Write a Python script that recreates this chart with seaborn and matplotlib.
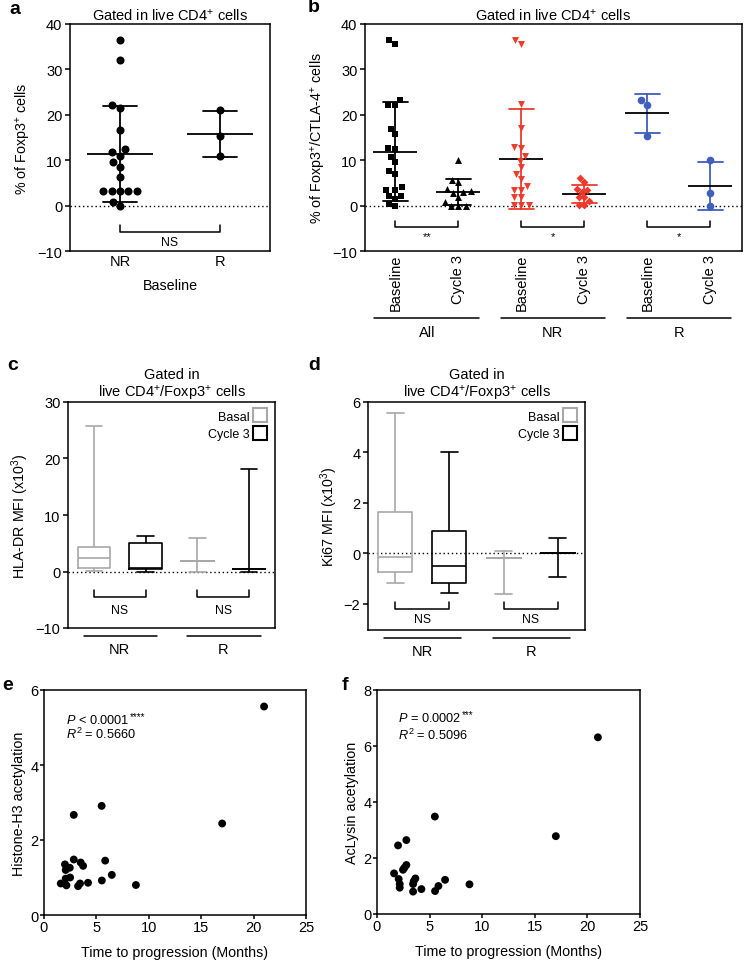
import numpy as np
import pandas as pd
import matplotlib
matplotlib.use("Agg")
import matplotlib.pyplot as plt
from matplotlib.lines import Line2D
import seaborn as sns

sns.set_theme(style="ticks")
plt.rcParams.update({
    "font.family": ["Liberation Sans", "DejaVu Sans"],
    "font.size": 10.5,
    "mathtext.fontset": "custom",
    "mathtext.rm": "Liberation Sans",
    "mathtext.it": "Liberation Sans:italic",
    "mathtext.bf": "Liberation Sans:bold",
    "axes.linewidth": 1.1,
    "axes.edgecolor": "black",
    "axes.labelcolor": "black",
    "text.color": "black",
    "xtick.color": "black",
    "ytick.color": "black",
    "xtick.labelsize": 10.5,
    "ytick.labelsize": 10.5,
    "axes.labelsize": 10.3,
})

RED = "#EE3A2B"
BLUE = "#3F5EBD"
GREY = "#A8A8A8"

# ---- panel a: % Foxp3+ at baseline
a_groups = ["NR", "R"]
a_nr = [36.4, 32.1, 22.1, 21.4, 16.6, 12.4, 11.7, 11.0, 9.5, 8.5, 6.4,
        3.3, 3.3, 3.3, 3.3, 3.3, 0.9, 0.0]
a_r = [21.0, 15.3, 10.9]

# ---- panel b: % Foxp3+/CTLA-4+
b_cats = ["All Baseline", "All Cycle 3", "NR Baseline", "NR Cycle 3", "R Baseline", "R Cycle 3"]
b_tick_labels = ["Baseline", "Cycle 3"] * 3
b_group_names = ["All", "NR", "R"]
b_stars = ["**", "*", "*"]
b_all_base = [36.4, 35.6, 23.2, 22.2, 22.2, 16.9, 15.8, 12.7, 12.5, 10.8, 9.7,
              7.7, 7.0, 4.0, 3.5, 3.5, 2.2, 2.2, 1.5, 0.4, 0.0]
b_all_c3 = [10.0, 5.7, 5.1, 3.7, 3.2, 2.9, 2.8, 1.8, 0.7, 0.0, 0.0, 0.0]
b_nr_base = [36.5, 35.7, 22.4, 17.0, 12.8, 12.6, 11.0, 9.9, 8.4, 7.0, 5.9,
             4.4, 3.5, 3.5, 1.8, 1.8, 0.2, 0.2, 0.2]
b_nr_c3 = [6.0, 5.1, 3.7, 3.5, 2.9, 1.8, 1.8, 1.0, 0.2, 0.2]
b_r_base = [23.3, 22.2, 15.4]
b_r_c3 = [10.1, 2.7, 0.0]

# ---- panels c, d: five-number summaries (min, q1, median, q3, max)
box_cats = ["NR Basal", "NR Cycle 3", "R Basal", "R Cycle 3"]
box_times = ["Basal", "Cycle 3", "Basal", "Cycle 3"]
c_stats = [[0.1, 0.6, 2.4, 4.4, 25.8],
           [0.0, 0.4, 0.7, 5.0, 6.2],
           [0.0, 1.8, 1.8, 1.8, 5.9],
           [0.0, 0.5, 0.5, 0.5, 18.2]]
d_stats = [[-1.17, -0.73, -0.13, 1.63, 5.56],
           [-1.56, -1.17, -0.49, 0.87, 4.0],
           [-1.6, -0.17, -0.17, -0.17, 0.1],
           [-0.93, 0.0, 0.0, 0.0, 0.6]]

# ---- panels e, f: acetylation vs time to progression
e_x = [21.0, 5.5, 2.84, 17.0, 2.84, 5.84, 2.0, 3.5, 3.73, 2.46, 2.07, 6.47,
       2.49, 2.07, 1.6, 5.52, 4.2, 3.44, 3.25, 2.14, 8.77]
e_y = [5.56, 2.91, 2.67, 2.44, 1.48, 1.45, 1.35, 1.40, 1.31, 1.26, 1.20, 1.07,
       1.00, 0.97, 0.84, 0.92, 0.86, 0.84, 0.77, 0.79, 0.80]
f_x = [21.0, 5.5, 2.0, 2.79, 17.0, 2.79, 2.47, 1.62, 2.06, 2.16, 2.16, 3.43,
       3.65, 3.49, 3.43, 4.22, 5.52, 5.84, 6.47, 8.79, 2.6]
f_y = [6.31, 3.48, 2.45, 2.64, 2.78, 1.75, 1.58, 1.45, 1.25, 1.07, 0.94, 1.07,
       1.27, 1.17, 0.80, 0.89, 0.82, 1.00, 1.22, 1.06, 1.65]

W, H = 747, 962
fig = plt.figure(figsize=(W / 100, H / 100), dpi=100)


def add_ax(l, t, r, b):
    return fig.add_axes([l / W, 1 - b / H, (r - l) / W, (b - t) / H])


def style_cat_axis(ax):
    for s in ax.spines.values():
        s.set_visible(True)
        s.set_linewidth(1.1)
    ax.tick_params(axis="x", length=0, pad=2)
    ax.tick_params(axis="y", length=3.5, width=1.1, pad=2)
    ax.axhline(0, ls=(0, (1, 2)), color="black", lw=1, zorder=0)


def bracket(ax, x0, x1, ytop, ybot, text, ytext, fs=8.8):
    ax.plot([x0, x0, x1, x1], [ytop, ybot, ybot, ytop], color="black", lw=1.1)
    ax.text((x0 + x1) / 2, ytext, text, ha="center", va="center", fontsize=fs)


def mean_sd(ax, df, order, palette, capsize, mean_w):
    sns.pointplot(data=df, x="cat", y="val", order=order, hue="cat", palette=palette,
                  errorbar="sd", capsize=capsize, linestyle="none", marker="",
                  err_kws={"linewidth": 1.3}, legend=False, ax=ax)
    sns.pointplot(data=df, x="cat", y="val", order=order, errorbar=None, color="black",
                  linestyle="none", marker="_", markersize=mean_w, markeredgewidth=1.3, ax=ax)


def letter(x, y, s):
    fig.text(x / W, 1 - y / H, s, ha="center", va="center", fontsize=14, weight="bold")


# ================= panel a
ax = add_ax(70, 25, 270, 252)
a_df = pd.DataFrame({"cat": ["NR"] * len(a_nr) + ["R"] * len(a_r), "val": a_nr + a_r})
sns.swarmplot(data=a_df, x="cat", y="val", order=a_groups, color="black", size=5.8, ax=ax)
mean_sd(ax, a_df, a_groups, {"NR": "black", "R": "black"}, 0.34, 47)
style_cat_axis(ax)
ax.set_xlim(-0.5, 1.5)
ax.set_ylim(-10, 40)
ax.set_yticks([-10, 0, 10, 20, 30, 40])
ax.set_xlabel("Baseline", labelpad=7)
ax.set_ylabel(r"% of Foxp3$^{+}$ cells", labelpad=3)
ax.set_title(r"Gated in live CD4$^{+}$ cells", fontsize=10.5, pad=3)
bracket(ax, 0, 1, -4.3, -5.8, "NS", -8.0)
letter(15, 9, "a")

# ================= panel b
ax = add_ax(365, 25, 742, 252)
b_values = [b_all_base, b_all_c3, b_nr_base, b_nr_c3, b_r_base, b_r_c3]
b_colors = ["black", "black", RED, RED, BLUE, BLUE]
b_markers = ["s", "^", "v", "D", "o", "o"]
b_sizes = [4.8, 5.0, 5.0, 4.0, 5.5, 5.5]
b_df = pd.DataFrame({"cat": np.repeat(b_cats, [len(v) for v in b_values]),
                     "val": np.concatenate(b_values)})
for cat, col, mk, sz in zip(b_cats, b_colors, b_markers, b_sizes):
    sns.swarmplot(data=b_df[b_df["cat"] == cat], x="cat", y="val", order=b_cats,
                  color=col, marker=mk, size=sz, ax=ax)
mean_sd(ax, b_df, b_cats, dict(zip(b_cats, b_colors)), 0.4, 31)
style_cat_axis(ax)
ax.set_xlim(-0.48, 5.5)
ax.set_ylim(-10, 40)
ax.set_yticks([-10, 0, 10, 20, 30, 40])
ax.set_xticks(range(6))
ax.set_xticklabels(b_tick_labels, rotation=90)
ax.set_xlabel("")
ax.set_ylabel(r"% of Foxp3$^{+}$/CTLA-4$^{+}$ cells", labelpad=3)
ax.set_title(r"Gated in live CD4$^{+}$ cells", fontsize=10.5, pad=3)
for i, (name, stars) in enumerate(zip(b_group_names, b_stars)):
    bracket(ax, 2 * i, 2 * i + 1, -3.5, -4.8, stars, -6.8, fs=8)
    ax.plot([2 * i - 0.33, 2 * i + 1.33], [-0.295, -0.295], color="black", lw=1.1,
            transform=ax.get_xaxis_transform(), clip_on=False)
    ax.text(2 * i + 0.5, -0.355, name, ha="center", va="center",
            transform=ax.get_xaxis_transform())
letter(314, 8, "b")


# ================= panels c, d
def box_panel(rect, stats, ylim, yticks, ylabel, brk, let):
    ax = add_ax(*rect)
    df = pd.DataFrame({"cat": np.repeat(box_cats, 5), "time": np.repeat(box_times, 5),
                       "val": np.concatenate(stats)})
    sns.boxplot(data=df, x="cat", y="val", hue="time", order=box_cats,
                palette={"Basal": GREY, "Cycle 3": "black"}, fill=False, whis=(0, 100),
                width=0.63, linewidth=1.2, dodge=False, legend=False, ax=ax)
    style_cat_axis(ax)
    ax.set_xlim(-0.5, 3.5)
    ax.set_ylim(*ylim)
    ax.set_yticks(yticks)
    ax.set_xticks([])
    ax.set_xlabel("")
    ax.set_ylabel(ylabel, labelpad=3)
    ax.set_title("Gated in\n" + r"live CD4$^{+}$/Foxp3$^{+}$ cells", fontsize=10.5,
                 pad=4, linespacing=1.15)
    for i, name in enumerate(["NR", "R"]):
        bracket(ax, 2 * i, 2 * i + 1, brk[0], brk[1], "NS", brk[2])
        ax.plot([2 * i - 0.2, 2 * i + 1.22], [-0.035, -0.035], color="black", lw=1.1,
                transform=ax.get_xaxis_transform(), clip_on=False)
        ax.text(2 * i + 0.5, -0.093, name, ha="center", va="center",
                transform=ax.get_xaxis_transform())
    handles = [Line2D([], [], ls="none", marker="s", markersize=9.5, mfc="white",
                      mec=c, mew=1.5) for c in (GREY, "black")]
    ax.legend(handles, ["Basal", "Cycle 3"], loc="upper right", markerfirst=False,
              frameon=False, handletextpad=0.3, labelspacing=0.45, borderaxespad=0.3,
              handlelength=1.0, fontsize=9)
    letter(let[0], let[1], let[2])


box_panel((68, 403, 275, 629), c_stats, (-10, 30), [-10, 0, 10, 20, 30],
          r"HLA-DR MFI (x10$^{3}$)", (-3.2, -4.5, -6.8), (13, 366, "c"))
box_panel((368, 403, 585, 631), d_stats, (-3.04, 6), [-2, 0, 2, 4, 6],
          r"Ki67 MFI (x10$^{3}$)", (-1.93, -2.2, -2.62), (314, 366, "d"))


# ================= panels e, f
def scatter_panel(rect, x, y, ylim, yticks, ylabel, ptxt, stars, rtxt, tpos, let):
    ax = add_ax(*rect)
    sns.scatterplot(x=x, y=y, color="black", s=32, edgecolor="none", ax=ax)
    for s in ax.spines.values():
        s.set_visible(True)
        s.set_linewidth(1.1)
    ax.tick_params(length=3, width=1.1, pad=1)
    ax.tick_params(axis="x", pad=0.5)
    ax.set_xlim(0, 25)
    ax.set_ylim(*ylim)
    ax.set_xticks([0, 5, 10, 15, 20, 25])
    ax.set_yticks(yticks)
    ax.set_xlabel("Time to progression (Months)", labelpad=8)
    ax.set_ylabel(ylabel, labelpad=3)
    t = ax.text(tpos[0], tpos[1], ptxt, ha="left", va="center", fontsize=9.2)
    ax.annotate(stars, xy=(1.0, 1.0), xycoords=t, xytext=(0.5, 1.5),
                textcoords="offset points", ha="left", va="top", fontsize=7)
    ax.text(tpos[0], tpos[2], rtxt, ha="left", va="center", fontsize=9.2)
    letter(let[0], let[1], let[2])


scatter_panel((44, 691, 306, 916), e_x, e_y, (0, 6), [0, 2, 4, 6], "Histone-H3 acetylation",
              r"$P$ < 0.0001", "****", r"$R^{2}$ = 0.5660", (2.1, 5.2, 4.83), (8, 686, "e"))
scatter_panel((377, 691, 640, 915), f_x, f_y, (0, 8), [0, 2, 4, 6, 8], "AcLysin acetylation",
              r"$P$ = 0.0002", "***", r"$R^{2}$ = 0.5096", (2.0, 7.0, 6.43), (345, 686, "f"))

fig.savefig("out.png", dpi=100)
